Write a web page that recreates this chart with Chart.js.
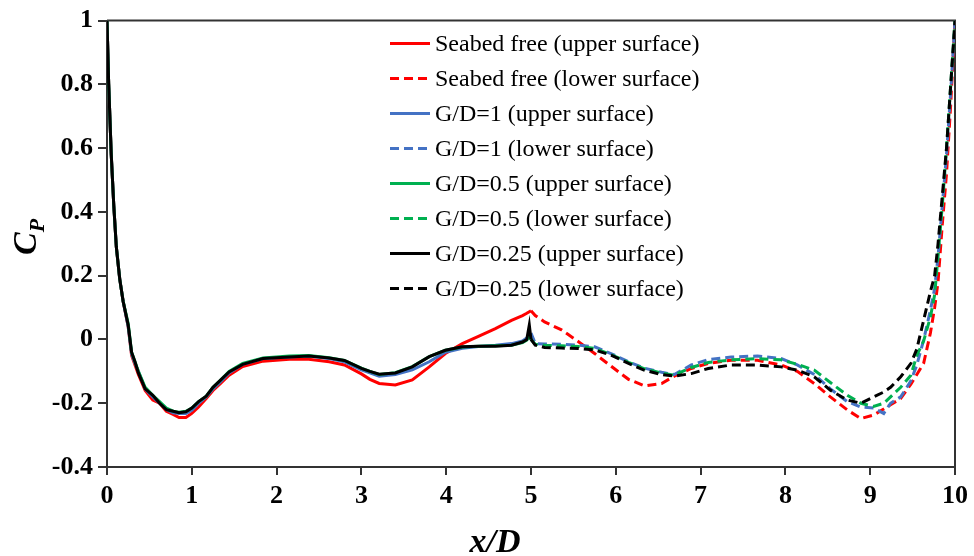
<!DOCTYPE html>
<html>
<head>
<meta charset="utf-8">
<script src="https://cdn.jsdelivr.net/npm/chart.js@4.4.0/dist/chart.umd.min.js"></script>
<style>
    body { margin: 0; background: #fff; }
    #wrap { width: 974px; height: 556px; position: relative; }
</style>
</head>
<body>
<div id="wrap"><canvas id="cpChart"></canvas></div>
<script>
// x/D positions, upper surface (0..5) and lower surface (5..10)
const xUpper = [0, 0.02, 0.05, 0.08, 0.11, 0.15, 0.19, 0.25, 0.29, 0.33, 0.37, 0.45, 0.54, 0.62, 0.70, 0.78, 0.85, 0.93, 1.0, 1.08, 1.17, 1.25, 1.33, 1.44, 1.6, 1.84, 2.15, 2.38, 2.62, 2.8, 3.0, 3.1, 3.21, 3.4, 3.6, 3.8, 3.99, 4.19, 4.38, 4.58, 4.77, 4.9, 4.95, 4.98, 5.0];
const xLower = [5.0, 5.05, 5.16, 5.36, 5.56, 5.75, 5.95, 6.15, 6.34, 6.54, 6.69, 6.89, 7.09, 7.36, 7.67, 7.95, 8.14, 8.34, 8.53, 8.73, 8.89, 9.04, 9.16, 9.24, 9.36, 9.48, 9.55, 9.63, 9.71, 9.76, 9.8, 9.85, 9.9, 9.95, 10.0];

// Cp values
const seabedUpper = [1, 0.8, 0.58, 0.42, 0.29, 0.19, 0.12, 0.04, -0.05, -0.08, -0.11, -0.16, -0.19, -0.2, -0.225, -0.235, -0.245, -0.245, -0.232, -0.212, -0.185, -0.16, -0.14, -0.112, -0.085, -0.068, -0.062, -0.062, -0.07, -0.08, -0.108, -0.125, -0.138, -0.143, -0.127, -0.086, -0.044, -0.013, 0.01, 0.034, 0.06, 0.075, 0.082, 0.087, 0.09];
const seabedLower = [0.09, 0.075, 0.055, 0.03, -0.007, -0.044, -0.085, -0.125, -0.146, -0.138, -0.115, -0.091, -0.075, -0.065, -0.065, -0.08, -0.1, -0.138, -0.18, -0.221, -0.248, -0.237, -0.218, -0.205, -0.185, -0.14, -0.11, -0.075, 0.02, 0.1, 0.18, 0.36, 0.52, 0.74, 1.0];

const gd1Upper = [1, 0.8, 0.58, 0.42, 0.29, 0.19, 0.12, 0.04, -0.045, -0.075, -0.1, -0.155, -0.18, -0.2, -0.22, -0.23, -0.232, -0.232, -0.222, -0.2, -0.18, -0.155, -0.135, -0.105, -0.078, -0.06, -0.055, -0.052, -0.06, -0.07, -0.095, -0.105, -0.115, -0.11, -0.095, -0.07, -0.04, -0.028, -0.022, -0.018, -0.013, -0.005, 0.005, 0.015, 0.02];
const gd1Lower = [0.02, -0.013, -0.014, -0.015, -0.018, -0.023, -0.045, -0.07, -0.09, -0.103, -0.11, -0.08, -0.063, -0.055, -0.052, -0.06, -0.08, -0.11, -0.155, -0.195, -0.212, -0.215, -0.232, -0.2, -0.18, -0.13, -0.08, -0.002, 0.092, 0.16, 0.26, 0.42, 0.58, 0.78, 1.0];

const gd05Upper = [1, 0.8, 0.58, 0.42, 0.29, 0.19, 0.12, 0.05, -0.04, -0.07, -0.1, -0.15, -0.175, -0.195, -0.215, -0.225, -0.228, -0.225, -0.215, -0.195, -0.178, -0.15, -0.13, -0.1, -0.075, -0.058, -0.052, -0.05, -0.057, -0.066, -0.09, -0.1, -0.11, -0.104, -0.085, -0.054, -0.034, -0.024, -0.021, -0.02, -0.018, -0.01, -0.002, 0.01, 0.0];
const gd05Lower = [0.0, -0.015, -0.018, -0.02, -0.022, -0.028, -0.048, -0.072, -0.092, -0.105, -0.112, -0.088, -0.072, -0.064, -0.06, -0.064, -0.078, -0.096, -0.135, -0.175, -0.2, -0.21, -0.2, -0.18, -0.15, -0.112, -0.05, -0.005, 0.07, 0.14, 0.26, 0.42, 0.6, 0.8, 1.0];

const gd025Upper = [1, 0.8, 0.58, 0.42, 0.29, 0.19, 0.12, 0.045, -0.04, -0.07, -0.105, -0.155, -0.175, -0.2, -0.22, -0.225, -0.23, -0.227, -0.215, -0.195, -0.178, -0.15, -0.13, -0.102, -0.078, -0.06, -0.055, -0.052, -0.058, -0.066, -0.091, -0.1, -0.109, -0.105, -0.086, -0.054, -0.034, -0.023, -0.021, -0.021, -0.018, -0.008, 0.0, 0.045, 0.0];
const gd025Lower = [0.0, -0.018, -0.025, -0.027, -0.028, -0.033, -0.05, -0.075, -0.097, -0.11, -0.115, -0.107, -0.091, -0.08, -0.08, -0.086, -0.096, -0.117, -0.159, -0.19, -0.2, -0.18, -0.165, -0.15, -0.117, -0.075, -0.03, 0.06, 0.15, 0.2, 0.3, 0.45, 0.6, 0.8, 1.0];

const xTicks = [0, 1, 2, 3, 4, 5, 6, 7, 8, 9, 10];
const yTicks = [-0.4, -0.2, 0, 0.2, 0.4, 0.6, 0.8, 1];

const RED = '#ff0000';
const BLUE = '#4472c4';
const GREEN = '#00b050';
const BLACK = '#000000';
const DASH = [9, 5];

function pts(xs, ys) {
    return xs.map((x, i) => ({ x: x, y: ys[i] }));
}

function series(label, xs, ys, color, dashed, order) {
    return {
        label: label,
        data: pts(xs, ys),
        borderColor: color,
        backgroundColor: color,
        borderWidth: 3,
        borderDash: dashed ? DASH : [],
        pointRadius: 0,
        showLine: true,
        tension: 0,
        order: order
    };
}

// legend drawn inside the plot, same layout as the figure
const boxAndLegend = {
    id: 'boxAndLegend',
    beforeDatasetsDraw(chart) {
        const { ctx, chartArea: a } = chart;
        ctx.save();
        ctx.strokeStyle = '#333';
        ctx.lineWidth = 2;
        ctx.beginPath();
        ctx.moveTo(a.left, a.top);
        ctx.lineTo(a.right, a.top);
        ctx.lineTo(a.right, a.bottom);
        ctx.stroke();
        ctx.restore();
    },
    afterDraw(chart) {
        const { ctx, chartArea: a } = chart;
        ctx.save();
        const lx = a.left + 283;
        const ly = a.top + 23;
        ctx.font = '24px "Liberation Serif"';
        ctx.textBaseline = 'middle';
        chart.data.datasets.forEach((ds, i) => {
            const y = ly + i * 35;
            ctx.strokeStyle = ds.borderColor;
            ctx.lineWidth = 3;
            ctx.setLineDash(ds.borderDash);
            ctx.beginPath();
            ctx.moveTo(lx, y);
            ctx.lineTo(lx + 40, y);
            ctx.stroke();
            ctx.setLineDash([]);
            ctx.fillStyle = '#000';
            ctx.fillText(ds.label, lx + 45, y + 1);
        });

        // axis titles
        ctx.fillStyle = '#000';
        ctx.textBaseline = 'alphabetic';
        ctx.textAlign = 'center';
        ctx.font = 'italic bold 34px "Liberation Serif"';
        ctx.fillText('x/D', 495, 552);

        ctx.translate(36, 243);
        ctx.rotate(-Math.PI / 2);
        ctx.textAlign = 'left';
        ctx.font = 'italic bold 34px "Liberation Serif"';
        ctx.fillText('C', -12, 0);
        const cw = ctx.measureText('C').width;
        ctx.font = 'italic bold 22px "Liberation Serif"';
        ctx.fillText('P', -12 + cw, 8);
        ctx.restore();
    }
};

new Chart(document.getElementById('cpChart'), {
    type: 'scatter',
    data: {
        datasets: [
            series('Seabed free (upper surface)', xUpper, seabedUpper, RED, false, 3),
            series('Seabed free (lower surface)', xLower, seabedLower, RED, true, 3),
            series('G/D=1 (upper surface)', xUpper, gd1Upper, BLUE, false, 2),
            series('G/D=1 (lower surface)', xLower, gd1Lower, BLUE, true, 2),
            series('G/D=0.5 (upper surface)', xUpper, gd05Upper, GREEN, false, 1),
            series('G/D=0.5 (lower surface)', xLower, gd05Lower, GREEN, true, 1),
            series('G/D=0.25 (upper surface)', xUpper, gd025Upper, BLACK, false, 0),
            series('G/D=0.25 (lower surface)', xLower, gd025Lower, BLACK, true, 0)
        ]
    },
    options: {
        responsive: true,
        maintainAspectRatio: false,
        animation: false,
        layout: { padding: { top: 20, right: 16, left: 0, bottom: 0 } },
        plugins: {
            legend: { display: false },
            tooltip: { enabled: false }
        },
        scales: {
            x: {
                type: 'linear',
                min: 0,
                max: 10,
                afterBuildTicks: s => { s.ticks = xTicks.map(v => ({ value: v })); },
                afterFit: s => { s.height = 89; },
                grid: { drawOnChartArea: false, drawTicks: true, tickLength: 8, color: '#333', lineWidth: 2 },
                border: { display: true, color: '#333', width: 2 },
                ticks: {
                    color: '#000',
                    padding: 6,
                    maxRotation: 0,
                    font: { family: 'Liberation Serif', size: 26, weight: 'bold' },
                    callback: v => String(v)
                }
            },
            y: {
                type: 'linear',
                min: -0.4,
                max: 1,
                afterBuildTicks: s => { s.ticks = yTicks.map(v => ({ value: v })); },
                afterFit: s => { s.width = 107; },
                grid: { drawOnChartArea: false, drawTicks: true, tickLength: 9, color: '#333', lineWidth: 2 },
                border: { display: true, color: '#333', width: 2 },
                ticks: {
                    color: '#000',
                    padding: 5,
                    font: { family: 'Liberation Serif', size: 26, weight: 'bold' },
                    callback: v => String(v)
                }
            }
        }
    },
    plugins: [boxAndLegend]
});
</script>
</body>
</html>
